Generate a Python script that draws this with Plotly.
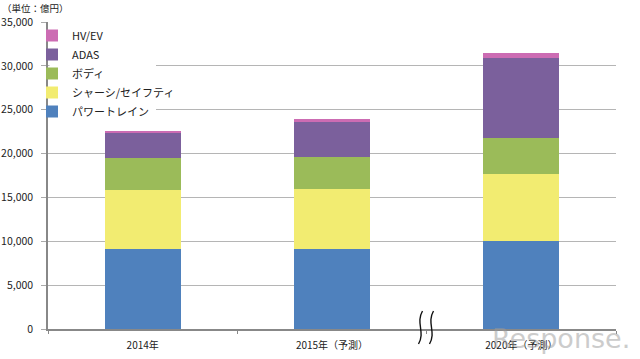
import plotly.graph_objects as go

categories = ["2014年", "2015年（予測）", "2020年（予測）"]
powertrain = [9100, 9100, 10000]
chassis_safety = [6800, 6900, 7700]
body = [3600, 3650, 4100]
adas = [2900, 4050, 9100]
hv_ev = [150, 200, 570]

series = [
    ("パワートレイン", powertrain, "#4f81bd"),
    ("シャーシ/セイフティ", chassis_safety, "#f2ec71"),
    ("ボディ", body, "#9bbb59"),
    ("ADAS", adas, "#7b609c"),
    ("HV/EV", hv_ev, "#cc6cb3"),
]

W, H = 640, 359
ML, MR, MT, MB = 48, 24, 22, 30
FONT = "Noto Sans CJK JP, Noto Sans, sans-serif"

fig = go.Figure()
for name, vals, color in series:
    fig.add_trace(go.Bar(x=categories, y=vals, name=name, marker=dict(color=color, line=dict(width=0))))

def px_x(p):
    return (p - ML) / (W - ML - MR)

def px_y(p):
    return (H - MB - p) / (H - MT - MB)

shapes = [
    # white backing behind legend (hides gridlines as in the source)
    dict(type="rect", xref="paper", yref="paper", layer="above",
         x0=px_x(49.5), x1=px_x(156), y0=px_y(124), y1=px_y(24),
         fillcolor="white", line=dict(width=0)),
]
for cx in (420.5, 431.5):
    top, bot = 311, 344
    path = (f"M {px_x(cx+2)},{px_y(top)} C {px_x(cx-5)},{px_y(top+12)} "
            f"{px_x(cx+5)},{px_y(bot-12)} {px_x(cx-2)},{px_y(bot)}")
    shapes.append(dict(type="path", xref="paper", yref="paper", path=path,
                       line=dict(color="#111111", width=1.4)))

fig.update_layout(
    width=W, height=H,
    margin=dict(l=ML, r=MR, t=MT, b=MB, autoexpand=False),
    barmode="stack",
    bargap=0.6,
    plot_bgcolor="white",
    paper_bgcolor="white",
    font=dict(family=FONT, size=11, color="#222222"),
    showlegend=True,
    legend=dict(
        traceorder="reversed",
        x=px_x(32), y=px_y(21), xanchor="left", yanchor="top",
        bgcolor="rgba(0,0,0,0)",
        font=dict(family=FONT, size=11, color="#222222"),
        itemwidth=30,
        tracegroupgap=0,
    ),
    xaxis=dict(
        type="category",
        showline=True, linecolor="#888888", linewidth=1.5,
        ticks="outside", tickson="boundaries", ticklen=3, tickcolor="#888888",
        showgrid=False,
        ticklabelstandoff=6,
        tickfont=dict(family=FONT, size=10, color="#222222"),
    ),
    yaxis=dict(
        range=[0, 35000], dtick=5000, tickformat=",",
        showline=True, linecolor="#888888", linewidth=1.5,
        ticks="outside", ticklen=5, tickcolor="#aaaaaa",
        showgrid=True, gridcolor="#b5b5b5", gridwidth=1.3,
        zeroline=False,
        ticklabelstandoff=6,
        tickfont=dict(family=FONT, size=10.5, color="#222222"),
    ),
    shapes=shapes,
    annotations=[
        dict(text="（単位：億円）", xref="paper", yref="paper",
             x=px_x(0), y=px_y(8), xanchor="left", yanchor="middle",
             showarrow=False, font=dict(family=FONT, size=9.5, color="#222222")),
        dict(text="Response.", xref="paper", yref="paper",
             x=px_x(632), y=px_y(338), xanchor="right", yanchor="middle",
             showarrow=False, opacity=0.5,
             font=dict(family="DejaVu Sans, sans-serif", size=27, color="#9a9a9a")),
    ],
)

fig.write_html("out.html", config={"displayModeBar": False},
               post_script="document.body.style.margin='0';document.body.style.padding='0';")
